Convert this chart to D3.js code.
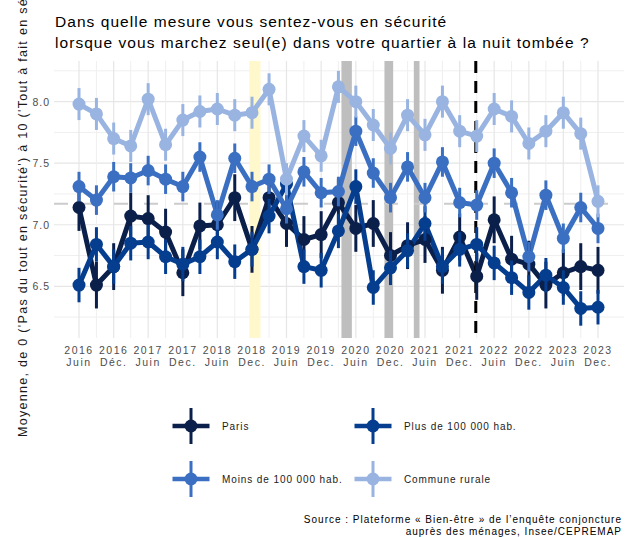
<!DOCTYPE html>
<html>
<head>
<meta charset="utf-8">
<script src="https://cdn.jsdelivr.net/npm/d3@7"></script>
<style>
  body { margin: 0; background: #fff; }
  svg { display: block; font-family: "Liberation Sans", Arial, sans-serif; }
</style>
</head>
<body>
<svg id="chart"></svg>
<script>
const width = 628
const height = 537

// quarterly survey waves
const periods = [
  '2016-06', '2016-09', '2016-12', '2017-03', '2017-06', '2017-09', '2017-12', '2018-03',
  '2018-06', '2018-09', '2018-12', '2019-03', '2019-06', '2019-09', '2019-12', '2020-03',
  '2020-06', '2020-09', '2020-12', '2021-03', '2021-06', '2021-09', '2021-12', '2022-03',
  '2022-06', '2022-09', '2022-12', '2023-03', '2023-06', '2023-09', '2023-12',
]

const groups = ['Paris', 'Plus de 100 000 hab.', 'Moins de 100 000 hab.', 'Commune rurale']
const colors = ['#0b1f4b', '#053d8f', '#3a6fc2', '#99b4e1']

const paris = [7.14, 6.51, 6.66, 7.07, 7.05, 6.94, 6.61, 6.99, 7.00, 7.22, 6.80, 7.22, 7.01, 6.88, 6.92, 7.18,
  6.97, 7.01, 6.75, 6.83, 6.88, 6.63, 6.90, 6.58, 7.04, 6.72, 6.68, 6.51, 6.61, 6.66, 6.63]
const plus100k = [6.51, 6.84, 6.66, 6.85, 6.86, 6.74, 6.68, 6.74, 6.86, 6.70, 6.80, 7.07, 7.33, 6.66, 6.63, 6.95,
  7.31, 6.49, 6.65, 6.79, 7.01, 6.66, 6.80, 6.84, 6.69, 6.57, 6.45, 6.59, 6.49, 6.32, 6.33]
const moins100k = [7.31, 7.20, 7.39, 7.38, 7.44, 7.37, 7.31, 7.55, 7.08, 7.54, 7.31, 7.37, 7.13, 7.43, 7.26, 7.27,
  7.76, 7.42, 7.22, 7.47, 7.22, 7.51, 7.18, 7.16, 7.50, 7.26, 6.74, 7.24, 6.89, 7.14, 6.97]
const rurale = [7.98, 7.90, 7.70, 7.64, 8.02, 7.65, 7.85, 7.92, 7.94, 7.89, 7.91, 8.10, 7.37, 7.72, 7.56, 8.12,
  8.00, 7.81, 7.62, 7.89, 7.73, 8.00, 7.76, 7.72, 7.94, 7.88, 7.66, 7.76, 7.91, 7.74, 7.19]
// half width of the confidence interval, per group
const ciHalf = [0.19, 0.14, 0.12, 0.13]

const series = [paris, plus100k, moins100k, rurale]

const xTickLabels = [
  ['2016', 'Juin'], ['2016', 'Déc.'], ['2017', 'Juin'], ['2017', 'Dec.'], ['2018', 'Juin'], ['2018', 'Dec.'],
  ['2019', 'Juin'], ['2019', 'Dec.'], ['2020', 'Juin'], ['2020', 'Dec.'], ['2021', 'Juin'], ['2021', 'Dec.'],
  ['2022', 'Juin'], ['2022', 'Dec.'], ['2023', 'Juin'], ['2023', 'Dec.'],
]
const yTicks = [6.5, 7.0, 7.5, 8.0]
const yMinor = [6.25, 6.75, 7.25, 7.75, 8.25]

// events: gilets jaunes, three lockdowns, invasion of Ukraine
const yellowPeriod = ['2018-11-17', '2019-01-15']
const lockdowns = [['2020-03-17', '2020-05-11'], ['2020-10-30', '2020-12-15'], ['2021-04-03', '2021-05-03']]
const eventLine = '2022-02-24'
const meanLine = 7.17

const parseMonth = d3.timeParse('%Y-%m')
const parseDay = d3.timeParse('%Y-%m-%d')
const dates = periods.map(parseMonth)

const panel = { left: 54, right: 624, top: 61, bottom: 338 }

const x = d3.scaleTime().domain([dates[0], dates[dates.length - 1]]).range([79, 598])
const y = d3.scaleLinear().domain([6.08, 8.33]).range([panel.bottom, panel.top])

const svg = d3.select('#chart').attr('width', width).attr('height', height)

// grid
const grid = svg.append('g')
grid.selectAll('line.hmin').data(yMinor).join('line')
  .attr('x1', panel.left).attr('x2', panel.right)
  .attr('y1', (d) => y(d)).attr('y2', (d) => y(d))
  .attr('stroke', '#efefef').attr('stroke-width', 1)
grid.selectAll('line.hmaj').data(yTicks).join('line')
  .attr('x1', panel.left).attr('x2', panel.right)
  .attr('y1', (d) => y(d)).attr('y2', (d) => y(d))
  .attr('stroke', '#e6e6e6').attr('stroke-width', 1.2)
grid.selectAll('line.v').data(dates).join('line')
  .attr('x1', (d) => x(d)).attr('x2', (d) => x(d))
  .attr('y1', panel.top).attr('y2', panel.bottom)
  .attr('stroke', (d, i) => (i % 2 ? '#efefef' : '#e6e6e6'))
  .attr('stroke-width', (d, i) => (i % 2 ? 1 : 1.2))

// event shading
svg.append('rect')
  .attr('x', x(parseDay(yellowPeriod[0])))
  .attr('width', x(parseDay(yellowPeriod[1])) - x(parseDay(yellowPeriod[0])))
  .attr('y', panel.top).attr('height', panel.bottom - panel.top)
  .attr('fill', '#fff8cc')
svg.selectAll('rect.lock').data(lockdowns).join('rect')
  .attr('x', (d) => x(parseDay(d[0])))
  .attr('width', (d) => x(parseDay(d[1])) - x(parseDay(d[0])))
  .attr('y', panel.top).attr('height', panel.bottom - panel.top)
  .attr('fill', '#bebebe')

svg.append('line')
  .attr('x1', panel.left).attr('x2', panel.right)
  .attr('y1', y(meanLine)).attr('y2', y(meanLine))
  .attr('stroke', '#cccccc').attr('stroke-width', 2)
  .attr('stroke-dasharray', '14,16')

const line = d3.line().x((d, i) => x(dates[i])).y((d) => y(d))

series.forEach((vals, k) => {
  svg.append('path')
    .datum(vals)
    .attr('d', line)
    .attr('fill', 'none')
    .attr('stroke', colors[k])
    .attr('stroke-width', 5)
    .attr('stroke-linejoin', 'round')
})

svg.append('line')
  .attr('x1', x(parseDay(eventLine))).attr('x2', x(parseDay(eventLine)))
  .attr('y1', panel.top).attr('y2', panel.bottom)
  .attr('stroke', '#000').attr('stroke-width', 3)
  .attr('stroke-dasharray', '12,8')

series.forEach((vals, k) => {
  const g = svg.append('g')
  g.selectAll('line').data(vals).join('line')
    .attr('x1', (d, i) => x(dates[i])).attr('x2', (d, i) => x(dates[i]))
    .attr('y1', (d) => y(d - ciHalf[k])).attr('y2', (d) => y(d + ciHalf[k]))
    .attr('stroke', colors[k]).attr('stroke-width', 3)
  g.selectAll('circle').data(vals).join('circle')
    .attr('cx', (d, i) => x(dates[i])).attr('cy', (d) => y(d))
    .attr('r', 6.5).attr('fill', colors[k])
})

// axes labels
const tickDates = dates.filter((d, i) => i % 2 === 0)
const xt = svg.append('g').attr('fill', '#4d4d4d').attr('font-size', 10.5)
  .attr('letter-spacing', 1.5).attr('text-anchor', 'middle')
xt.selectAll('text').data(tickDates).join('text')
  .attr('x', (d) => x(d))
  .each(function (d, i) {
    const t = d3.select(this)
    t.append('tspan').attr('x', x(d)).attr('y', 354).text(xTickLabels[i][0])
    t.append('tspan').attr('x', x(d)).attr('y', 366).text(xTickLabels[i][1])
  })

svg.append('g').attr('fill', '#4d4d4d').attr('font-size', 10.5).attr('letter-spacing', 1)
  .attr('text-anchor', 'end')
  .selectAll('text').data(yTicks).join('text')
  .attr('x', 50).attr('y', (d) => y(d) + 4)
  .text((d) => d.toFixed(1))

svg.append('text')
  .attr('transform', 'translate(27,437) rotate(-90)')
  .attr('font-size', 12.5).attr('letter-spacing', 1.3).attr('fill', '#1a1a1a')
  .text("Moyenne, de 0 ('Pas du tout en sécurité') à 10 ('Tout à fait en sécurité')")

// title
const title = svg.append('g').attr('font-size', 15.5).attr('fill', '#000').attr('letter-spacing', 1.05)
title.append('text').attr('x', 55).attr('y', 27).text('Dans quelle mesure vous sentez-vous en sécurité')
title.append('text').attr('x', 55).attr('y', 48)
  .text('lorsque vous marchez seul(e) dans votre quartier à la nuit tombée ?')

// legend
const legendPos = [[191, 426], [373, 426], [191, 479], [373, 479]]
const legend = svg.append('g')
groups.forEach((name, k) => {
  const [cx, cy] = legendPos[k]
  const g = legend.append('g').attr('transform', `translate(${cx},${cy})`)
  g.append('line').attr('x1', -18.5).attr('x2', 18.5).attr('stroke', colors[k]).attr('stroke-width', 4.7)
  g.append('line').attr('y1', -18).attr('y2', 18).attr('stroke', colors[k]).attr('stroke-width', 3)
  g.append('circle').attr('r', 6.5).attr('fill', colors[k])
  g.append('text').attr('x', 31).attr('y', 4).attr('font-size', 10).attr('letter-spacing', 0.9)
    .attr('fill', '#1a1a1a').text(name)
})

// source
const src = svg.append('g').attr('font-size', 10).attr('fill', '#000')
  .attr('text-anchor', 'end').attr('letter-spacing', 1)
src.append('text').attr('x', 622).attr('y', 523)
  .text('Source : Plateforme « Bien-être » de l’enquête conjoncture')
src.append('text').attr('x', 622).attr('y', 535).text('auprès des ménages, Insee/CEPREMAP')
</script>
</body>
</html>
